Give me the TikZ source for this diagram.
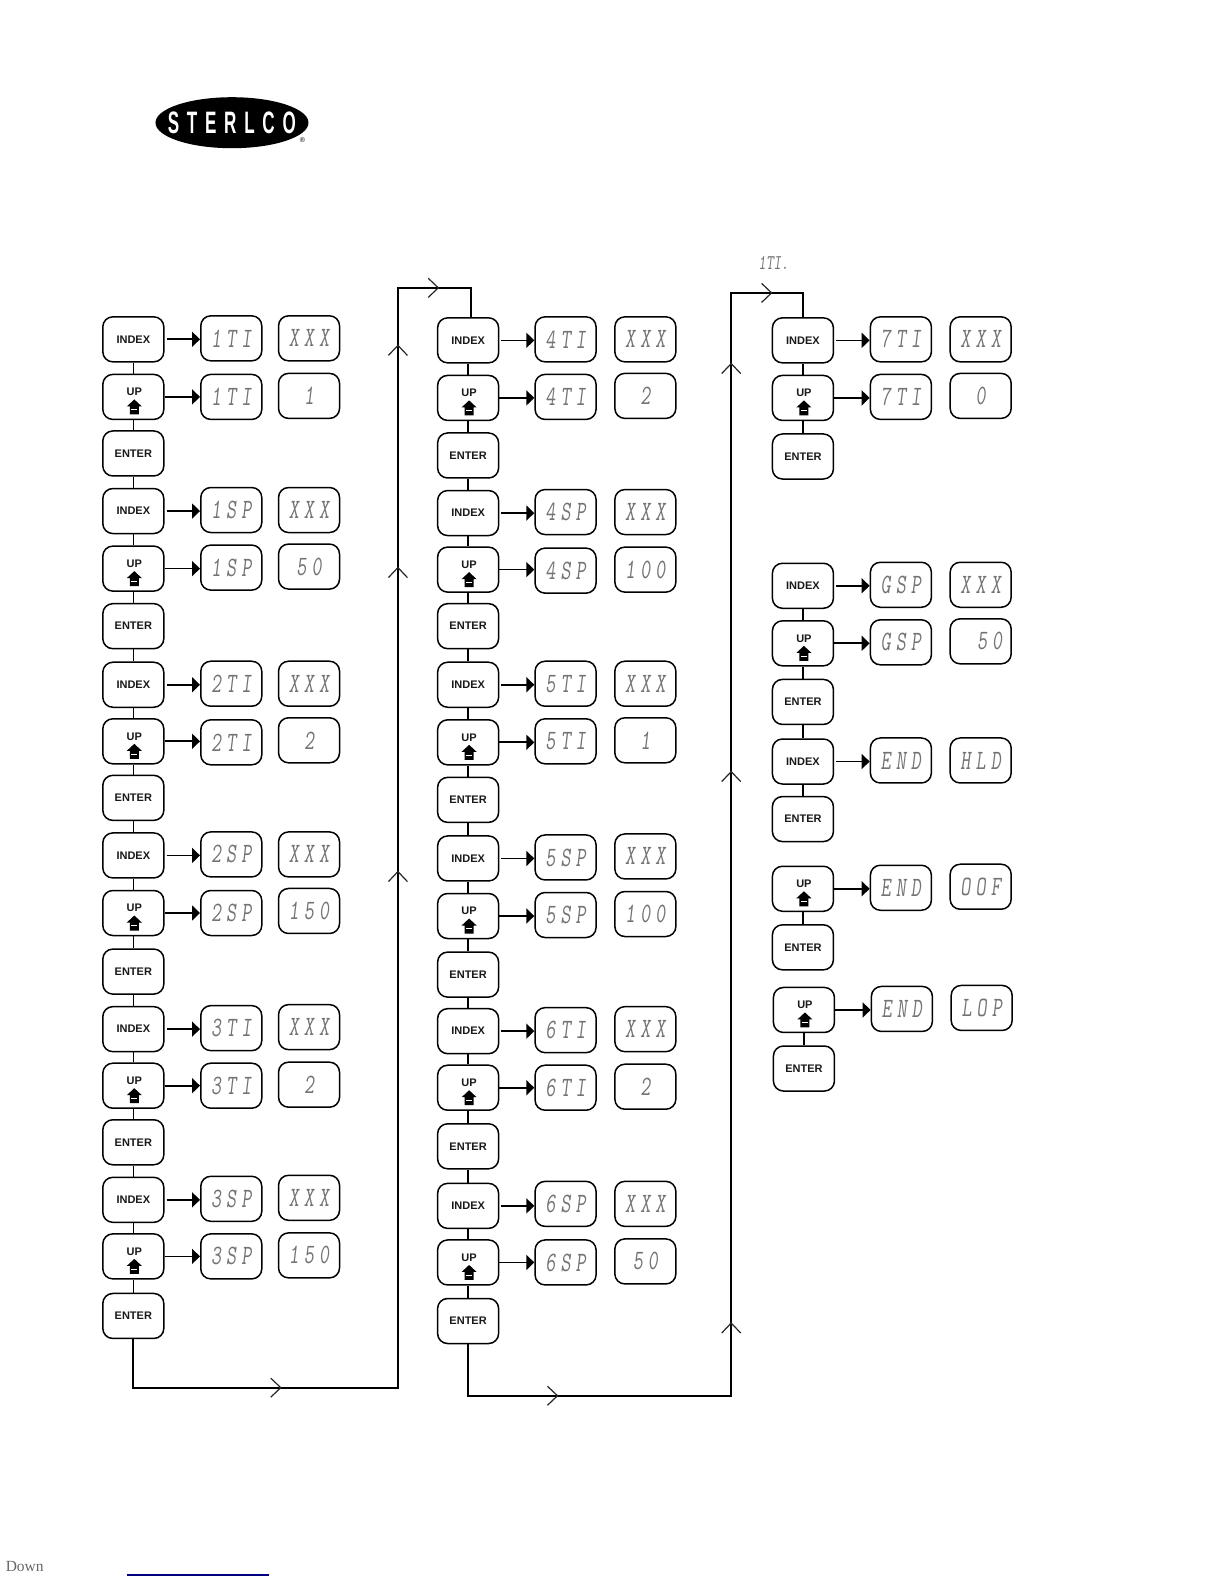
\documentclass[tikz,border=0pt]{standalone}
\usepackage{fontspec}
\usetikzlibrary{arrows.meta}
\setmainfont{Liberation Sans}
\newfontfamily\serifdown{Liberation Serif}
\newfontfamily\lcdfont[FakeSlant=0.12,FakeStretch=0.7,LetterSpace=18]{Latin Modern Mono}
\newfontfamily\lcdtight[FakeSlant=0.12,FakeStretch=0.7]{Latin Modern Mono}
\newfontfamily\logofont[FakeStretch=0.55,LetterSpace=25]{Liberation Sans Bold}
\definecolor{lcdgray}{gray}{0.45}
\definecolor{keyink}{gray}{0.1}
\tikzset{
  keybox/.style={draw=black,line width=1.5pt,rounded corners=10pt,minimum width=61pt,minimum height=45pt,inner sep=0pt,fill=white,text=keyink,font=\fontsize{11}{11}\selectfont\bfseries},
  lcdbox/.style={draw=black,line width=1.5pt,rounded corners=10pt,minimum width=61pt,minimum height=45pt,inner sep=0pt,fill=white,text=lcdgray,font=\lcdfont\fontsize{28}{28}\selectfont},
  stepline/.style={line width=1.4pt,black},
  pusharrow/.style={line width=1.7pt,black,-{Triangle[length=8pt,width=15pt]}},
  flowline/.style={line width=2pt,black},
  chevron/.style={line width=1.2pt,black!85},
}
\newcommand{\keyicon}[1]{%
  \fill[black] ([xshift=-6.5pt,yshift=-9.5pt]#1.center) -- ([xshift=1pt,yshift=-2.5pt]#1.center) -- ([xshift=8.5pt,yshift=-9.5pt]#1.center) -- ([xshift=5.5pt,yshift=-9.5pt]#1.center) -- ([xshift=5.5pt,yshift=-17.5pt]#1.center) -- ([xshift=-3.5pt,yshift=-17.5pt]#1.center) -- ([xshift=-3.5pt,yshift=-9.5pt]#1.center) -- cycle;
  \draw[white,line width=0.4pt] ([xshift=-2pt,yshift=-12.5pt]#1.center) -- ([xshift=4pt,yshift=-12.5pt]#1.center);
}
\newcommand{\enterkey}[3]{\node[keybox] (#1) at (#2,#3) {ENTER};}
\newcommand{\indexrow}[9]{%
  \node[keybox] (#1) at (#2,#3) {INDEX};
  \node[lcdbox] (#1d) at (#4,#5) {#6};
  \node[lcdbox] (#1v) at (#7,#8) {#9};
  \draw[pusharrow] ([xshift=2pt]#1.east) -- (#1.east -| #1d.west);
}
\newcommand{\uprow}[9]{%
  \node[keybox] (#1) at (#2,#3) {\hspace*{2pt}\smash{\raisebox{1.3pt}{UP}}};
  \keyicon{#1}
  \node[lcdbox] (#1d) at (#4,#5) {#6};
  \node[lcdbox] (#1v) at (#7,#8) {#9};
  \draw[pusharrow] (#1.east) -- (#1.east -| #1d.west);
}
\newcommand{\steplink}[2]{\draw[stepline] (#1.south) -- (#1.south |- #2.north);}
\newcommand{\chevR}[1]{\draw[chevron] ([xshift=-10pt,yshift=9.5pt]#1) -- (#1) -- ([xshift=-10pt,yshift=-9.5pt]#1);}
\newcommand{\chevU}[1]{\draw[chevron] ([xshift=-9.5pt,yshift=-10pt]#1) -- (#1) -- ([xshift=9.5pt,yshift=-10pt]#1);}
\begin{document}
\begin{tikzpicture}[x=1.0099pt,y=-1.0099pt]
\useasboundingbox (0,0) rectangle (1212,1568.4);
% logo
\fill[black] (229.7,121.5) ellipse [x radius=76.5pt,y radius=25.5pt];
\node[text=white,font=\logofont\fontsize{31}{31}\selectfont,inner sep=0pt] (logo) at (229.5,122) {STERLCO};
\node[font=\fontsize{7}{7}\selectfont,inner sep=0pt] (reg) at (299.5,139) {®};
% column 1
\indexrow{a1}{132}{336}{229}{335}{1TI}{306}{335}{XXX}
\uprow{a2}{132}{393}{229}{393}{1TI}{306}{392}{1}
\enterkey{a3}{132}{449}
\indexrow{a4}{132}{506}{229}{505}{1SP}{306}{505}{XXX}
\uprow{a5}{132}{563}{229}{562}{1SP}{306}{561}{50}
\enterkey{a6}{132}{620}
\indexrow{a7}{132}{678}{229}{677}{2TI}{306}{677}{XXX}
\uprow{a8}{132}{734}{229}{735}{2TI}{306}{733}{2}
\enterkey{a9}{132}{790}
\indexrow{a10}{132}{847}{229}{846}{2SP}{306}{846}{XXX}
\uprow{a11}{132}{904}{229}{904}{2SP}{306}{902}{150}
\enterkey{a12}{132}{962}
\indexrow{a13}{132}{1019}{229}{1018}{3TI}{306}{1017}{XXX}
\uprow{a14}{132}{1075}{229}{1075}{3TI}{306}{1074}{2}
\enterkey{a15}{132}{1131}
\indexrow{a16}{132}{1188}{229}{1187}{3SP}{306}{1186}{XXX}
\uprow{a17}{132}{1244}{229}{1244}{3SP}{306}{1243}{150}
\enterkey{a18}{132}{1303}
% column 2
\indexrow{b1}{463.5}{337}{560}{336}{4TI}{639}{336}{XXX}
\uprow{b2}{463.5}{394}{560}{393}{4TI}{639}{392}{2}
\enterkey{b3}{463.5}{451}
\indexrow{b4}{463.5}{508}{560}{507}{4SP}{639}{507}{XXX}
\uprow{b5}{463.5}{564}{560}{565}{4SP}{639}{564}{100}
\enterkey{b6}{463.5}{620}
\indexrow{b7}{463.5}{678}{560}{677}{5TI}{639}{677}{XXX}
\uprow{b8}{463.5}{735}{560}{734}{5TI}{639}{733}{1}
\enterkey{b9}{463.5}{792}
\indexrow{b10}{463.5}{850}{560}{849}{5SP}{639}{848}{XXX}
\uprow{b11}{463.5}{907}{560}{906}{5SP}{639}{905}{100}
\enterkey{b12}{463.5}{965}
\indexrow{b13}{463.5}{1021}{560}{1020}{6TI}{639}{1019}{XXX}
\uprow{b14}{463.5}{1077}{560}{1077}{6TI}{639}{1076}{2}
\enterkey{b15}{463.5}{1135}
\indexrow{b16}{463.5}{1194}{560}{1192}{6SP}{639}{1192}{XXX}
\uprow{b17}{463.5}{1250}{560}{1250}{6SP}{639}{1249}{50}
\enterkey{b18}{463.5}{1308}
% column 3
\indexrow{c1}{795}{337}{892}{336}{7TI}{971}{336}{XXX}
\uprow{c2}{795}{394}{892}{393}{7TI}{971}{392}{0}
\enterkey{c3}{795}{452}
\indexrow{c4}{795}{580}{892}{579}{GSP}{971}{579}{XXX}
\uprow{c5}{795}{637}{892}{636}{GSP}{971}{635}{\hspace*{18pt}50}
\enterkey{c6}{795}{695}
\indexrow{c7}{795}{754}{892}{753}{END}{971}{753}{HLD}
\enterkey{c8}{795}{811}
\uprow{c9}{795}{880}{892}{879}{END}{971}{878}{OOF}
\enterkey{c10}{795}{938}
\uprow{c11}{796}{1000}{893}{999}{END}{972}{998}{LOP}
\enterkey{c12}{796}{1058}
% step links
\foreach \p/\q in {a1/a2,a2/a3,a3/a4,a4/a5,a5/a6,a6/a7,a7/a8,a8/a9,a9/a10,a10/a11,a11/a12,a12/a13,a13/a14,a14/a15,a15/a16,a16/a17,a17/a18,
  b1/b2,b2/b3,b3/b4,b4/b5,b5/b6,b6/b7,b7/b8,b8/b9,b9/b10,b10/b11,b11/b12,b12/b13,b13/b14,b14/b15,b15/b16,b16/b17,b17/b18,
  c1/c2,c2/c3,c4/c5,c5/c6,c6/c7,c7/c8,c9/c10,c11/c12}{\steplink{\p}{\q}}
% flow lines
\coordinate (f1) at (132,1374);
\coordinate (f2) at (394,1374);
\coordinate (f3) at (394,285);
\coordinate (f4) at (466,285);
\draw[flowline,line join=miter] (a18.south) -- (f1) -- (f2) -- (f3) -- (f4) -- (f4 |- b1.north);
\coordinate (g1) at (463.5,1382);
\coordinate (g2) at (724,1382);
\coordinate (g3) at (724,290);
\coordinate (g4) at (795,290);
\draw[flowline,line join=miter] (b18.south) -- (g1) -- (g2) -- (g3) -- (g4) -- (c1.north);
\foreach \x/\y [count=\i] in {278/1374,434/285,552/1382,764/290}{\coordinate (cr\i) at (\x,\y); \chevR{cr\i}}
\foreach \x/\y [count=\i] in {394/342,394/562,394/863,724/360,724/764,724/1310}{\coordinate (cu\i) at (\x,\y); \chevU{cu\i}}
% stray label above column 3
\node[text=lcdgray,inner sep=0pt,font=\lcdtight\fontsize{21}{21}\selectfont] (toplabel) at (766,260) {1TI.};
% footer
\node[text=black!60,inner sep=0pt,anchor=west,font=\serifdown\fontsize{15.5}{15.5}\selectfont] (down) at (5.5,1551) {Down};
\draw[color=blue!50!black,line width=1.2pt] (125.7,1559.5) -- (266.5,1559.5);
\end{tikzpicture}
\end{document}
